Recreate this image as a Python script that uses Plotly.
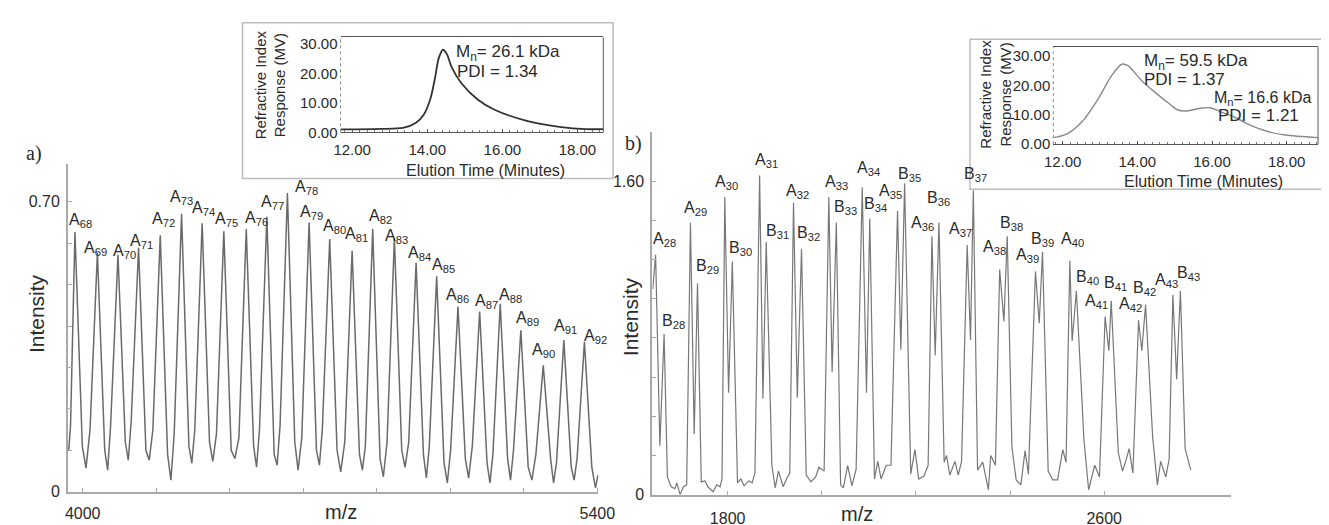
import plotly.graph_objects as go

W, H = 1329, 525
def px(x):
    return x / W
def py(y):
    return 1 - y / H

# ---------------- Panel a data (MALDI spectrum) ----------------
a_peak_n = list(range(68, 93))
a_peak_mz = [3979, 4040, 4096, 4152, 4211, 4269, 4325, 4384, 4445, 4501, 4557, 4616, 4672,
             4733, 4789, 4848, 4907, 4963, 5021, 5080, 5136, 5192, 5253, 5309, 5365]
a_peak_int = [0.627, 0.577, 0.572, 0.589, 0.619, 0.671, 0.648, 0.629, 0.634, 0.664, 0.721, 0.650, 0.610,
              0.582, 0.634, 0.612, 0.553, 0.520, 0.447, 0.435, 0.454, 0.390, 0.305, 0.366, 0.362]
a_base_mz = [3962, 3967,
             3999, 4009, 4020, 4060, 4068, 4076, 4116, 4124, 4132, 4172, 4181, 4191,
             4231, 4240, 4249, 4289, 4297, 4305, 4345, 4354, 4364, 4404, 4414, 4425,
             4465, 4473, 4481, 4521, 4529, 4537, 4577, 4586, 4596, 4636, 4644, 4652,
             4692, 4702, 4713, 4753, 4761, 4769, 4809, 4818, 4828, 4868, 4877, 4887,
             4927, 4935, 4943, 4983, 4992, 5001, 5041, 5050, 5060, 5100, 5108, 5116,
             5156, 5164, 5172, 5212, 5222, 5233, 5273, 5281, 5289, 5329, 5337, 5345,
             5385, 5395, 5402]
a_base_int = [0.10, 0.16,
              0.11, 0.057, 0.15, 0.10, 0.052, 0.16, 0.12, 0.076, 0.17, 0.10, 0.076, 0.15,
              0.09, 0.028, 0.14, 0.11, 0.069, 0.15, 0.12, 0.073, 0.14, 0.10, 0.080, 0.13,
              0.11, 0.059, 0.15, 0.09, 0.064, 0.16, 0.12, 0.052, 0.13, 0.10, 0.064, 0.15,
              0.10, 0.048, 0.12, 0.09, 0.052, 0.11, 0.08, 0.036, 0.12, 0.10, 0.059, 0.12,
              0.09, 0.033, 0.11, 0.07, 0.021, 0.10, 0.08, 0.033, 0.11, 0.07, 0.021, 0.09,
              0.08, 0.028, 0.10, 0.06, 0.028, 0.09, 0.08, 0.021, 0.07, 0.06, 0.028, 0.08,
              0.06, 0.009, 0.04]
a_xticks = [4000, 4200, 4400, 4600, 4800, 5000, 5200, 5400]
a_xticktext = ["4000", "", "", "", "", "", "", "5400"]
a_yticks = [0, 0.1, 0.2, 0.3, 0.4, 0.5, 0.6, 0.7]
a_yticktext = ["0", "", "", "", "", "", "", "0.70"]

# ---------------- Panel b data ----------------
b_peak_names = ["A28", "B28", "A29", "B29", "A30", "B30", "A31", "B31", "A32", "B32",
                "A33", "B33", "A34", "B34", "A35", "B35", "A36", "B36", "A37", "B37",
                "A38", "B38", "A39", "B39", "A40", "B40", "A41", "B41", "A42", "B42",
                "A43", "B43"]
b_peak_mz = [1647, 1665, 1721, 1736, 1794, 1810, 1868, 1882, 1940, 1957,
             2015, 2031, 2086, 2102, 2161, 2176, 2234, 2249, 2309, 2322,
             2378, 2394, 2454, 2469, 2527, 2541, 2602, 2615, 2673, 2688,
             2746, 2762]
b_peak_int = [1.225, 0.82, 1.388, 1.078, 1.52, 1.19, 1.63, 1.29, 1.49, 1.255,
              1.52, 1.39, 1.57, 1.41, 1.45, 1.59, 1.32, 1.39, 1.275, 1.555,
              1.15, 1.32, 1.14, 1.24, 1.195, 1.04, 0.91, 0.99, 0.89, 0.97,
              1.02, 1.04]
b_dip_mz = [1656, 1729, 1802, 1875, 1948, 2022, 2095, 2168, 2241, 2316, 2387, 2462, 2532, 2610, 2680, 2754]
b_dip_int = [0.25, 0.31, 0.52, 0.49, 0.495, 0.625, 0.52, 0.74, 0.71, 0.79, 0.885, 0.875, 0.785, 0.735, 0.735, 0.59]
b_base_mz = [1641,
             1672, 1680, 1688, 1692, 1699, 1706, 1713,
             1744, 1752, 1758, 1769, 1777, 1784, 1788,
             1821, 1828, 1835, 1845, 1852, 1858,
             1894, 1901, 1908, 1918, 1925, 1932,
             1967, 1977, 1987, 1994, 2005,
             2040, 2046, 2055, 2064, 2073,
             2112, 2119, 2126, 2137, 2147,
             2189, 2198, 2206, 2217, 2226,
             2260, 2265, 2272, 2283, 2290, 2297,
             2331, 2342, 2354, 2359, 2369,
             2404, 2413, 2423, 2432, 2439,
             2481, 2491, 2501, 2512, 2519,
             2557, 2567, 2580, 2590,
             2630, 2639, 2647, 2653, 2661,
             2703, 2713, 2720, 2731, 2738,
             2772, 2784]
b_base_int = [1.05,
              0.09, 0.04, 0.03, 0.06, 0.0, 0.04, 0.05,
              0.065, 0.07, 0.04, 0.015, 0.05, 0.04, 0.08,
              0.06, 0.08, 0.045, 0.07, 0.06, 0.11,
              0.15, 0.035, 0.12, 0.04, 0.08, 0.11,
              0.10, 0.065, 0.09, 0.14, 0.12,
              0.05, 0.035, 0.15, 0.045, 0.13,
              0.08, 0.17, 0.08, 0.15, 0.15,
              0.105, 0.23, 0.08, 0.095, 0.15,
              0.165, 0.20, 0.10, 0.17, 0.10, 0.17,
              0.125, 0.166, 0.025, 0.20, 0.15,
              0.245, 0.075, 0.05, 0.225, 0.105,
              0.12, 0.075, 0.075, 0.23, 0.165,
              0.28, 0.025, 0.15, 0.09,
              0.215, 0.12, 0.18, 0.235, 0.11,
              0.295, 0.05, 0.17, 0.09, 0.18,
              0.235, 0.125]
b_xticks = [1800, 2000, 2200, 2400, 2600]
b_xticktext = ["1800", "", "", "", "2600"]
b_yticks = [0, 0.2, 0.4, 0.6, 0.8, 1.0, 1.2, 1.4, 1.6]
b_yticktext = ["0", "", "", "", "", "", "", "", "1.60"]

# ---------------- GPC insets ----------------
gpc_a_t = [11.69, 12.74, 13.35, 13.70, 13.91, 14.09, 14.22, 14.30, 14.42, 14.52, 14.65,
           14.91, 15.35, 15.78, 16.65, 17.52, 18.22, 18.69]
gpc_a_v = [1.0, 1.2, 1.5, 3.3, 6.1, 11.7, 19.4, 25.0, 28.1, 26.7, 22.2,
           16.7, 11.1, 7.8, 3.9, 1.9, 1.1, 1.1]
gpc_b_t = [11.74, 12.09, 12.53, 12.96, 13.31, 13.58, 13.75, 14.11, 14.46, 14.90,
           15.07, 15.33, 15.68, 15.95, 16.21, 16.65, 17.08, 17.52, 17.96, 18.84]
gpc_b_v = [2.2, 3.3, 7.8, 15.6, 23.3, 27.2, 26.7, 21.7, 17.8, 13.3,
           11.7, 11.3, 12.2, 12.4, 11.1, 8.9, 6.1, 4.2, 3.1, 2.2]
gpc_yticks = [0, 10, 20, 30]

# label placement offsets (pixels): horizontal shift, height of label bottom above peak top
a_label_dx = [6, -2, 7, 3, 3, 0, 1, 3, 10, 6, 19, 2, 5, 4, 8, 2, 3, 7, 0, 7, 10, 7, 0, 2, 11]
a_label_dy = [3, -4, -5, -2, 7, 8, 6, 3, 2, 6, -3, 2, 4, 8, 4, -7, 1, 2, 3, 2, 0, 3, 6, 5, -3]
b_label_dx = [9, 9, 5, 10, 2, 8, 7, 11, 4, 7, 8, 9, 6, 6, -7, 5, -9, 0, -7, 2,
              -5, 4, -8, 0, 3, 11, -9, 4, -8, -1, -6, 8]
b_label_dy = [7, 4, 6, 9, 6, 5, 6, 2, 3, 7, 6, 6, 10, 6, 11, 0, 4, 15, 7, 7,
              13, 4, 7, 4, 13, 5, 6, 9, 7, 8, 6, 9]

FONT = "Liberation Sans, Arial, sans-serif"
AXC = "#a9a9a9"
TXT = "#2a2a2a"


def merged(xs1, ys1, xs2, ys2):
    pts = sorted(zip(list(xs1) + list(xs2), list(ys1) + list(ys2)))
    return [p[0] for p in pts], [p[1] for p in pts]


ax_x, ax_y = merged(a_peak_mz, a_peak_int, a_base_mz, a_base_int)
bx1, by1 = merged(b_peak_mz, b_peak_int, b_dip_mz, b_dip_int)
bx_x, bx_y = merged(bx1, by1, b_base_mz, b_base_int)

fig = go.Figure()
fig.add_trace(go.Scatter(x=ax_x, y=ax_y, mode="lines", xaxis="x", yaxis="y",
                         line=dict(color="#6a6a6a", width=1.5), hoverinfo="skip"))
fig.add_trace(go.Scatter(x=bx_x, y=bx_y, mode="lines", xaxis="x2", yaxis="y2",
                         line=dict(color="#777777", width=1.2), hoverinfo="skip"))
fig.add_trace(go.Scatter(x=gpc_a_t, y=gpc_a_v, mode="lines", xaxis="x3", yaxis="y3",
                         line=dict(color="#333333", width=1.8, shape="spline", smoothing=0.8),
                         hoverinfo="skip"))
fig.add_trace(go.Scatter(x=gpc_b_t, y=gpc_b_v, mode="lines", xaxis="x4", yaxis="y4",
                         line=dict(color="#8a8a8a", width=1.4, shape="spline", smoothing=0.8),
                         hoverinfo="skip"))

main_axis = dict(showline=True, linecolor=AXC, linewidth=2, ticks="inside", ticklen=4,
                 tickcolor=AXC, tickwidth=1, showgrid=False, zeroline=False,
                 tickfont=dict(family=FONT, size=16, color=TXT), tickmode="array")
inset_x = dict(showline=True, mirror=True, linecolor="#555555", linewidth=1, ticks="inside",
               ticklen=3, tickcolor="#555555", showgrid=False, zeroline=False,
               tickmode="linear", tick0=12, dtick=2, tickformat=".2f",
               minor=dict(ticks="inside", ticklen=2, tickcolor="#777777", tick0=12, dtick=0.2),
               tickfont=dict(family=FONT, size=15, color=TXT), ticklabelstandoff=4)
inset_y = dict(showline=False, ticks="", showgrid=False, zeroline=False,
               tickmode="array", tickvals=gpc_yticks, tickformat=".2f",
               tickfont=dict(family=FONT, size=15, color=TXT), ticklabelstandoff=2)

fig.update_layout(
    width=W, height=H, margin=dict(l=0, r=0, t=0, b=0),
    paper_bgcolor="white", plot_bgcolor="rgba(0,0,0,0)", showlegend=False,
    xaxis=dict(main_axis, domain=[px(52), px(593)], range=[3960, 5403], anchor="y",
               tickvals=a_xticks, ticktext=a_xticktext, ticklabelstandoff=6),
    yaxis=dict(main_axis, domain=[py(492), py(157)], range=[0, 0.792], anchor="x",
               tickvals=a_yticks, ticktext=a_yticktext, ticklabelstandoff=3),
    xaxis2=dict(main_axis, domain=[px(648), px(1238)], range=[1640, 2869], anchor="y2",
                tickvals=b_xticks, ticktext=b_xticktext, ticklabelstandoff=8),
    yaxis2=dict(main_axis, domain=[py(495), py(125)], range=[0, 1.85], anchor="x2",
                tickvals=b_yticks, ticktext=b_yticktext, ticklabelstandoff=3),
    xaxis3=dict(inset_x, domain=[px(330), px(598)], range=[11.69, 18.69], anchor="y3"),
    yaxis3=dict(inset_y, domain=[py(125), py(28)], range=[0, 32.3], anchor="x3"),
    xaxis4=dict(inset_x, domain=[px(1057), px(1327)], range=[11.75, 18.84], anchor="y4"),
    yaxis4=dict(inset_y, domain=[py(137), py(38)], range=[0, 33], anchor="x4"),
)

shapes = [
    dict(type="rect", xref="paper", yref="paper", x0=px(230), x1=px(608), y0=py(172), y1=py(13),
         line=dict(color="#bdbdbd", width=1.5)),
    dict(type="rect", xref="paper", yref="paper", x0=px(972), x1=px(1345), y0=py(183), y1=py(30),
         line=dict(color="#bdbdbd", width=1.5)),
]
for xd, yd in (("x3 domain", "y3 domain"), ("x4 domain", "y4 domain")):
    shapes.append(dict(type="line", xref=xd, yref=yd, x0=1, x1=1, y0=0, y1=1,
                       line=dict(color="#555555", width=1)))
    shapes.append(dict(type="line", xref=xd, yref=yd, x0=0, x1=0, y0=0, y1=1,
                       line=dict(color="#888888", width=1, dash="dot")))
fig.update_layout(shapes=shapes)

ann = []
def text(x, y, s, size, angle=0, family=FONT, xanchor="center", yanchor="middle", color=TXT):
    ann.append(dict(x=px(x), y=py(y), xref="paper", yref="paper", text=s, showarrow=False,
                    textangle=angle, xanchor=xanchor, yanchor=yanchor,
                    font=dict(family=family, size=size, color=color)))

text(17, 147, "a)", 20, family="Liberation Serif, Times New Roman, serif")
text(629, 136, "b)", 20, family="Liberation Serif, Times New Roman, serif")
text(20, 310, "Intensity", 21, angle=-90)
text(626, 313, "Intensity", 21, angle=-90)
text(330, 513, "m/z", 20)
text(857, 515, "m/z", 20)
# inset a
text(258, 76, "Refractive Index<br>Response (MV)", 15, angle=-90)
text(478, 164, "Elution Time (Minutes)", 16)
text(446, 44, "M<sub>n</sub>= 26.1 kDa", 17, xanchor="left")
text(447, 63, "PDI = 1.34", 17, xanchor="left")
# inset b
text(998, 86, "Refractive Index<br>Response (MV)", 15, angle=-90)
text(1210, 175, "Elution Time (Minutes)", 16)
text(1147, 53, "M<sub>n</sub>= 59.5 kDa", 17, xanchor="left")
text(1147, 71, "PDI = 1.37", 17, xanchor="left")
text(1219, 90, "M<sub>n</sub>= 16.6 kDa", 16, xanchor="left")
text(1223, 108, "PDI = 1.21", 17, xanchor="left")

for n, mz, v, dx, dy in zip(a_peak_n, a_peak_mz, a_peak_int, a_label_dx, a_label_dy):
    ann.append(dict(x=mz, y=v, xref="x", yref="y", text=f"A<sub>{n}</sub>", showarrow=False,
                    xanchor="center", yanchor="bottom", xshift=dx, yshift=dy - 3,
                    font=dict(family=FONT, size=16, color=TXT)))
for name, mz, v, dx, dy in zip(b_peak_names, b_peak_mz, b_peak_int, b_label_dx, b_label_dy):
    ann.append(dict(x=mz, y=v, xref="x2", yref="y2", text=f"{name[0]}<sub>{name[1:]}</sub>",
                    showarrow=False, xanchor="center", yanchor="bottom", xshift=dx, yshift=dy - 3,
                    font=dict(family=FONT, size=16, color=TXT)))
fig.update_layout(annotations=ann)

fig.write_html("out.html")
